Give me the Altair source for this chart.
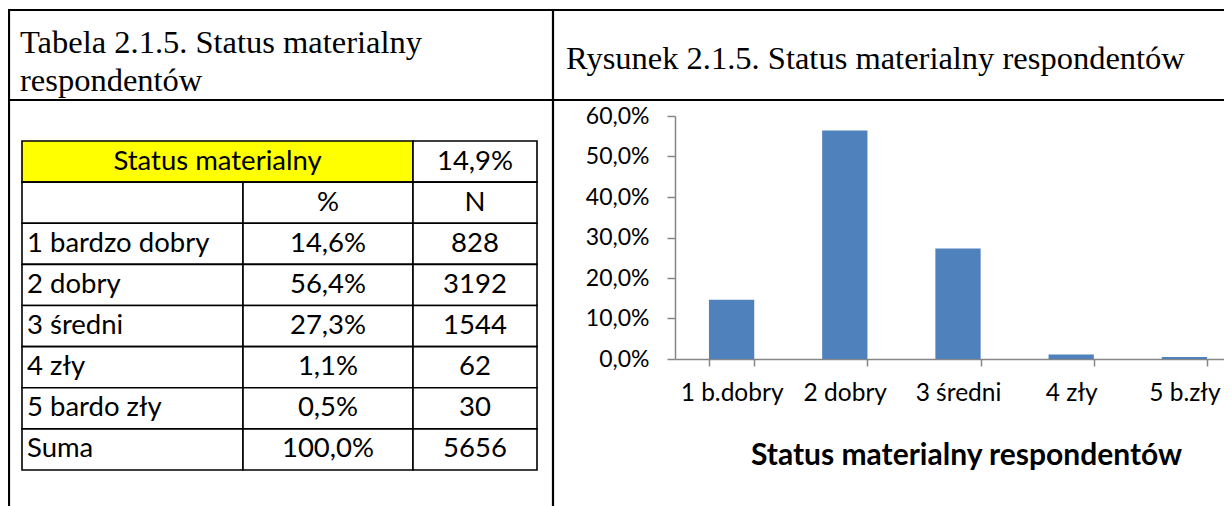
import altair as alt
import pandas as pd

# ---------------- data ----------------
chart_categories = ["1 b.dobry", "2 dobry", "3 średni", "4 zły", "5 b.zły"]
chart_values = [0.146, 0.564, 0.273, 0.011, 0.005]
y_ticks = [0.0, 0.1, 0.2, 0.3, 0.4, 0.5, 0.6]

table_title = "Status materialny"
table_title_value = "14,9%"
column_heads = ["", "%", "N"]
table_categories = ["1 bardzo dobry", "2 dobry", "3 średni", "4 zły", "5 bardo zły", "Suma"]
table_percent = ["14,6%", "56,4%", "27,3%", "1,1%", "0,5%", "100,0%"]
table_n = [828, 3192, 1544, 62, 30, 5656]

left_caption = ["Tabela 2.1.5. Status materialny", "respondentów"]
right_caption = "Rysunek 2.1.5. Status materialny respondentów"
x_title = "Status materialny respondentów"

# ---------------- layout helpers (page px -> plot px) ----------------
OX, OY = 675, 116
PAD_L, PAD_T = OX - 8, OY - 8
PLOT_W, PLOT_H = 1216 - PAD_L, 243
PAD_B = 498 - PAD_T - PLOT_H


def X(p):
    return p - OX


def Y(p):
    return p - OY


row_keys = [f"r{i}" for i in range(2 + len(table_categories))]
tdf = pd.DataFrame({
    "row": row_keys,
    "label": [table_title, column_heads[0]] + table_categories,
    "pct": ["", column_heads[1]] + table_percent,
    "n": [table_title_value, column_heads[2]] + [str(v) for v in table_n],
})

ysc = alt.Scale(domain=row_keys, range=[Y(141), Y(470)], paddingInner=0, paddingOuter=0)
yenc = alt.Y("row:N", scale=ysc, axis=None)

is_head = "datum.row == 'r0'"
not_head = "datum.row != 'r0'"

TFONT = "Lato"
TSIZE = 27.5


def cell(x0, x1, fill, flt):
    return (
        alt.Chart(tdf)
        .transform_filter(flt)
        .mark_rect(fill=fill, stroke="black", strokeWidth=1.6)
        .encode(x=alt.value(X(x0)), x2=alt.value(X(x1)), y=yenc)
    )


cells = [
    cell(22, 413, "#FFFF00", is_head),
    cell(22, 243, "white", not_head),
    cell(243, 413, "white", not_head),
    cell(413, 537, "white", "true"),
]


def tcol(field, xpos, align, flt):
    return (
        alt.Chart(tdf)
        .transform_filter(flt)
        .mark_text(font=TFONT, fontSize=TSIZE, align=align, baseline="middle", color="black")
        .encode(x=alt.value(X(xpos)), y=yenc, text=f"{field}:N")
    )


texts = [
    tcol("label", (22 + 413) / 2, "center", is_head),
    tcol("label", 27, "left", not_head),
    tcol("pct", 328, "center", not_head),
    tcol("n", 475, "center", "true"),
]

one = pd.DataFrame({"k": [0]})


def hline(yp, x0, x1, w=2.2):
    return alt.Chart(one).mark_rule(color="black", strokeWidth=w).encode(
        x=alt.value(X(x0)), x2=alt.value(X(x1)), y=alt.value(Y(yp)))


def vline(xp, y0, y1, w=2.2):
    return alt.Chart(one).mark_rule(color="black", strokeWidth=w).encode(
        x=alt.value(X(xp)), y=alt.value(Y(y0)), y2=alt.value(Y(y1)))


frame = [
    hline(10, 8, 1240),
    hline(100, 8, 1240),
    vline(9, 10, 510),
    vline(553, 10, 510),
]


def caption(txt, xp, yp):
    return alt.Chart(one).mark_text(
        font="Liberation Serif", fontSize=32.5, align="left", baseline="alphabetic", color="black"
    ).encode(x=alt.value(X(xp)), y=alt.value(Y(yp)), text=alt.value(txt))


captions = [
    caption(left_caption[0], 20, 53),
    caption(left_caption[1], 20, 91),
    caption(right_caption, 566, 69),
]

# ---------------- bar chart ----------------
bdf = pd.DataFrame({"cat": chart_categories, "value": chart_values})
GRAY = "#868686"

bars = alt.Chart(bdf).mark_bar(color="#4F81BD").encode(
    x=alt.X(
        "cat:N",
        sort=chart_categories,
        scale=alt.Scale(range=[0, 566], paddingInner=0.6, paddingOuter=0.3),
        axis=alt.Axis(
            title=x_title,
            labelAngle=0,
            tickBand="extent",
            domainColor=GRAY,
            domainWidth=1.5,
            tickColor=GRAY,
            tickWidth=1.5,
            tickSize=7,
            labelFont="Lato",
            labelFontSize=24.5,
            labelColor="black",
            labelBaseline="middle",
            labelPadding=27,
            titleFont="Lato",
            titleFontSize=30,
            titleFontWeight="bold",
            titleColor="black",
            titleBaseline="middle",
            titleAlign="center",
            titleX=966 - OX,
            titleY=455 - 359,
            grid=False,
        ),
    ),
    y=alt.Y(
        "value:Q",
        scale=alt.Scale(domain=[0, 0.6], nice=False),
        axis=alt.Axis(
            title=None,
            values=y_ticks,
            labelExpr="replace(format(datum.value, '.1%'), '.', ',')",
            domainColor=GRAY,
            domainWidth=1.5,
            tickColor=GRAY,
            tickWidth=1.5,
            tickSize=8,
            gridColor=GRAY,
            gridWidth=1.5,
            labelFont="Lato",
            labelFontSize=23,
            labelColor="black",
            labelPadding=18,
        ),
    ),
)

chart = (
    alt.layer(*frame, *captions, *cells, *texts, bars)
    .resolve_scale(x="independent", y="independent")
    .properties(
        width=PLOT_W,
        height=PLOT_H,
        padding={"left": PAD_L, "top": PAD_T, "right": 0, "bottom": PAD_B},
        autosize=alt.AutoSizeParams(type="none"),
    )
    .configure_view(strokeWidth=0)
)

chart.save("out.html", embed_options={"renderer": "svg", "actions": False})
